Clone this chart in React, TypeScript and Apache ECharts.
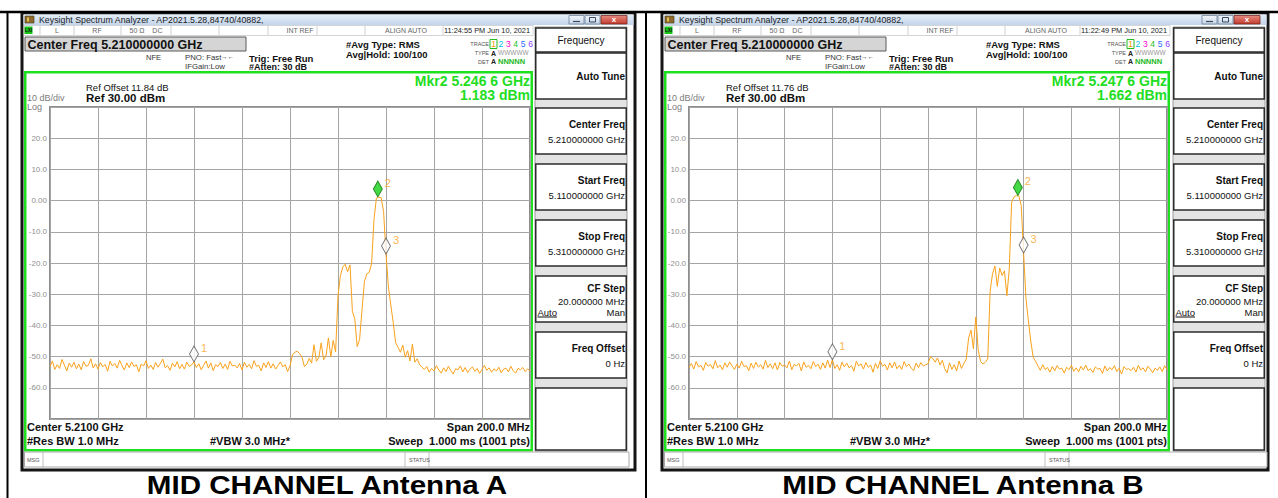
import React, { useEffect, useRef } from "react";
import * as echarts from "echarts";

const FONT = "'Liberation Sans', Arial, Helvetica, sans-serif";
const START_MHZ = 5110;
const STEP_MHZ = 1;
const SPAN_MHZ = 200;
const REF_DBM = 30;
const BOTTOM_DBM = -70;
const DB_PER_DIV = 10;

// Trace A: levels in dBm, one reading per MHz from 5110 MHz to 5310 MHz
const traceA: number[] = [
  -53.2, -51.4, -54.1, -52.6, -53.8, -50.9, -52.7, -54.6, -52.1, -53.4,
  -51.8, -53.9, -52.4, -54.2, -51.6, -53.1, -52.8, -50.7, -53.6, -52.3,
  -54.0, -51.9, -53.3, -52.5, -54.7, -51.5, -53.0, -52.2, -53.7, -51.2,
  -52.9, -54.3, -52.0, -53.5, -51.7, -53.2, -52.6, -54.9, -52.4, -53.0,
  -51.3, -53.8, -52.7, -54.1, -51.9, -53.4, -52.2, -50.8, -53.6, -52.9,
  -54.4, -52.1, -53.3, -51.6, -53.9, -52.5, -54.0, -51.8, -53.1, -52.7,
  -51.7, -53.5, -52.3, -54.2, -52.8, -51.4, -53.7, -52.0, -54.5, -52.6,
  -53.2, -51.9, -53.8, -52.4, -54.1, -51.5, -53.0, -52.7, -53.6, -52.2,
  -54.3, -51.8, -53.4, -52.5, -53.9, -51.3, -53.1, -52.8, -54.6, -52.0,
  -53.5, -51.6, -53.7, -52.3, -54.0, -52.9, -51.7, -53.3, -52.6, -54.8,
  -53.0, -49.5, -48.6, -48.3, -49.0, -50.2, -53.2, -52.4, -50.6, -52.1,
  -46.2, -51.5, -50.3, -45.6, -51.0, -49.8, -44.0, -50.1, -44.8, -48.5,
  -30.5, -24.0, -21.3, -20.4, -22.8, -20.6, -35.5, -38.0, -46.8, -44.5,
  -35.0, -26.0, -23.5, -23.0, -20.2, -6.0, 0.8, 1.1, 0.9, -3.5,
  -17.1, -27.6, -33.5, -39.0, -45.5, -47.0, -48.6, -46.3, -50.2, -48.1,
  -51.4, -46.0, -51.8, -50.7, -52.6, -53.4,
  -54.1, -53.2, -55.0, -53.8, -54.6, -52.9, -54.3, -55.3, -53.6, -54.8,
  -53.1, -54.5, -55.6, -53.9, -54.2, -53.0, -54.9, -53.5, -55.1, -54.0,
  -53.3, -54.7, -53.8, -55.4, -54.1, -52.8, -54.4, -53.6, -55.0, -53.9,
  -54.6, -53.4, -55.2, -54.0, -53.7, -54.9, -53.1, -54.5, -55.3, -53.8,
  -54.2, -53.5, -54.8, -53.9, -54.6,
];

// Trace B: levels in dBm, one reading per MHz from 5110 MHz to 5310 MHz
const traceB: number[] = [
  -53.5, -52.2, -54.0, -51.6, -53.3, -52.8, -54.4, -51.9, -53.1, -52.5,
  -53.9, -51.3, -53.6, -52.7, -54.2, -52.0, -53.4, -51.7, -53.0, -54.1,
  -52.4, -53.7, -51.5, -53.2, -52.9, -54.5, -52.1, -53.8, -51.8, -53.3,
  -52.6, -54.0, -51.2, -53.5, -52.3, -53.9, -52.0, -54.3, -51.9, -53.1,
  -52.7, -53.6, -51.4, -54.2, -52.5, -53.0, -52.2, -54.6, -51.7, -53.4,
  -52.8, -53.9, -51.6, -53.2, -52.4, -54.1, -52.0, -53.7, -51.1, -53.5,
  -51.0, -53.8, -52.6, -54.4, -51.8, -53.3, -52.1, -53.6, -52.9, -54.7,
  -51.5, -53.0, -52.3, -54.0, -51.9, -53.4, -52.7, -55.0, -52.2, -53.8,
  -51.3, -53.1, -52.5, -54.3, -52.0, -53.6, -51.7, -53.9, -52.8, -54.1,
  -51.6, -53.2, -52.4, -53.7, -54.5, -52.1, -53.5, -51.9, -53.0, -52.6,
  -52.3, -50.1, -50.6, -51.8, -50.4, -52.7, -51.2, -53.9, -55.2, -52.0,
  -54.1, -52.6, -54.6, -51.4, -53.8, -52.2, -50.8, -44.0, -41.5, -47.5,
  -37.3, -47.8, -51.6, -52.4, -51.8, -50.7, -29.0, -23.5, -21.0, -27.5,
  -21.6, -24.0, -22.5, -30.5, -22.0, -0.5, 1.2, 1.6, 1.5, -1.5,
  -16.8, -31.5, -38.5, -45.0, -50.2, -51.5,
  -53.0, -54.4, -52.6, -54.1, -53.5, -55.0, -53.2, -54.6, -52.9, -54.0,
  -53.7, -55.3, -53.4, -54.2, -52.8, -54.7, -53.6, -54.9, -53.1, -54.3,
  -52.7, -54.5, -53.9, -55.1, -53.3, -54.0, -53.8, -55.4, -53.0, -54.6,
  -53.5, -54.2, -52.9, -54.8, -53.7, -55.6, -53.2, -54.1, -53.9, -54.5,
  -53.4, -55.0, -52.8, -54.3, -53.6, -54.9, -53.1, -54.0, -55.2, -53.7,
  -54.4, -53.3, -54.8, -52.9, -54.2,
];

const markersA = [
  { id: "1", mhz: 5170.0, dbm: -51.7, active: false },
  { id: "2", mhz: 5246.6, dbm: 1.183, active: true },
  { id: "3", mhz: 5250.0, dbm: -17.1, active: false },
];
const markersB = [
  { id: "1", mhz: 5170.0, dbm: -51.0, active: false },
  { id: "2", mhz: 5247.6, dbm: 1.662, active: true },
  { id: "3", mhz: 5250.0, dbm: -16.8, active: false },
];

const softkeys = [
  { title: "Auto Tune", value: "" },
  { title: "Center Freq", value: "5.210000000 GHz" },
  { title: "Start Freq", value: "5.110000000 GHz" },
  { title: "Stop Freq", value: "5.310000000 GHz" },
  { title: "CF Step", value: "20.000000 MHz" },
  { title: "Freq Offset", value: "0 Hz" },
];
const softkeyTops = [53, 108, 164, 220, 276, 332, 388];

const traceNumbers = ["1", "2", "3", "4", "5", "6"];
const traceNumberColors = ["#f59a00", "#00bde6", "#ff00cc", "#1fbf1f", "#2b6cff", "#8a3cff"];

const panels = [
  {
    caption: "MID CHANNEL Antenna A",
    captionX: 327,
    time: "11:24:55 PM Jun 10, 2021",
    refOffset: "Ref Offset 11.84 dB",
    mkrFreq: "Mkr2 5.246 6 GHz",
    mkrLevel: "1.183 dBm",
    trace: traceA,
    markers: markersA,
    win: [22, 635],
    plot: [24, 533],
    grid: [50, 530],
    keys: [535, 627],
  },
  {
    caption: "MID CHANNEL Antenna B",
    captionX: 963,
    time: "11:22:49 PM Jun 10, 2021",
    refOffset: "Ref Offset 11.76 dB",
    mkrFreq: "Mkr2 5.247 6 GHz",
    mkrLevel: "1.662 dBm",
    trace: traceB,
    markers: markersB,
    win: [662, 1268],
    plot: [664, 1170],
    grid: [689, 1167],
    keys: [1173, 1265],
  },
];

const GREEN = "#1fe01f";
const ORANGE = "#f9a11b";

function vgrad(a: string, b: string) {
  return new echarts.graphic.LinearGradient(0, 0, 0, 1, [
    { offset: 0, color: a },
    { offset: 1, color: b },
  ]);
}

function buildPanel(p: any) {
  const els: any[] = [];
  const L = p.win[0] - 22;
  const R = p.plot[1] - 533;
  const WR = p.win[1] - 635;
  const KL = p.keys[0];
  const KR = p.keys[1];
  const txt = (x: number, y: number, text: string, size: number, o: any = {}) =>
    els.push({
      type: "text",
      z: 30,
      x,
      y,
      scaleX: o.scaleX || 1,
      silent: true,
      style: {
        text,
        fontSize: size,
        fontFamily: o.family || FONT,
        fontWeight: o.bold ? "bold" : "normal",
        fill: o.color || "#111",
        align: o.align || "left",
        verticalAlign: "middle",
      },
    });
  const rect = (x: number, y: number, w: number, h: number, fill: any, stroke?: string, lw?: number, z = 1) =>
    els.push({
      type: "rect",
      z,
      silent: true,
      shape: { x, y, width: w, height: h },
      style: { fill, stroke: stroke || null, lineWidth: lw || 0 },
    });
  const line = (x1: number, y1: number, x2: number, y2: number, stroke: string, lw = 1, z = 12) =>
    els.push({ type: "line", z, silent: true, shape: { x1, y1, x2, y2 }, style: { stroke, lineWidth: lw } });

  // window
  rect(p.win[0], 13, p.win[1] - p.win[0], 457, "#ffffff", "#151515", 3, 0);
  rect(p.win[0] + 1.5, 14.5, p.win[1] - p.win[0] - 3, 10.5, vgrad("#e4edf8", "#c3d5eb"), null as any, 0, 1);
  rect(L + 25, 16, 9, 7, "#8c6a2c", "#4a3a18", 0.6, 2);
  rect(L + 27, 17.5, 2, 4, "#e0c050", null as any, 0, 3);
  txt(L + 39, 20, "Keysight Spectrum Analyzer - AP2021.5.28,84740/40882,", 8.8, { color: "#1b1b1b" });
  rect(WR + 569, 15.5, 15, 8.5, vgrad("#f2f6fb", "#c6d4e6"), "#6d819c", 0.8, 2);
  line(WR + 573, 21.5, WR + 580, 21.5, "#3a4a60", 1.2, 3);
  rect(WR + 585, 15.5, 15, 8.5, vgrad("#f2f6fb", "#c6d4e6"), "#6d819c", 0.8, 2);
  rect(WR + 589.5, 17.5, 6, 4.5, null as any, "#3a4a60", 1, 3);
  rect(WR + 601, 15.5, 26, 8.5, vgrad("#e88b80", "#c2392c"), "#7a2820", 0.8, 2);
  txt(WR + 614, 19.8, "x", 8, { bold: true, color: "#ffffff", align: "center" });

  // status row
  rect(L + 24, 25.5, p.plot[1] - L - 24, 10, "#ffffff", "#c9c9c9", 0.8, 1);
  rect(L + 24.5, 26.5, 8, 7.5, "#18c418", null as any, 0, 2);
  txt(L + 28.5, 30.4, "LXI", 4.5, { bold: true, align: "center", color: "#111" });
  [40, 74, 121, 171, 219, 268, 317, 365].forEach((x) => line(L + x, 26, L + x, 35, "#c4c4c4", 0.8, 2));
  line(R + 443, 26, R + 443, 35, "#c4c4c4", 0.8, 2);
  txt(L + 57, 30.5, "L", 7, { color: "#666", align: "center" });
  txt(L + 97, 30.5, "RF", 7, { color: "#666", align: "center" });
  txt(L + 146, 30.5, "50 Ω    DC", 7, { color: "#666", align: "center" });
  txt(L + 300, 30.5, "INT REF", 7, { color: "#666", align: "center" });
  txt(L + 406, 30.5, "ALIGN AUTO", 7, { color: "#666", align: "center" });
  txt(R + 487, 30.5, p.time, 7.4, { color: "#222", align: "center" });

  // header block
  rect(L + 25, 37, 221, 14, "#d5d5d5", "#5a5a5a", 1, 2);
  txt(L + 27.5, 44.5, "Center Freq 5.210000000 GHz", 12.5, { bold: true });
  txt(L + 146, 57, "NFE", 7.5, { color: "#333" });
  txt(L + 185, 57, "PNO: Fast", 7.8, { color: "#333" });
  txt(L + 221, 56.5, "→←", 6.5, { color: "#333" });
  txt(L + 185, 66, "IFGain:Low", 7.8, { color: "#333" });
  txt(L + 249, 58, "Trig: Free Run", 9.5, { bold: true });
  txt(L + 249, 66.5, "#Atten: 30 dB", 9, { bold: true });
  txt(L + 346, 44.5, "#Avg Type: RMS", 9.5, { bold: true });
  txt(L + 346, 54.5, "Avg|Hold: 100/100", 9.5, { bold: true });
  txt(R + 489, 44, "TRACE", 5.5, { color: "#555", align: "right" });
  txt(R + 489, 53, "TYPE", 5.5, { color: "#555", align: "right" });
  txt(R + 489, 61.5, "DET", 5.5, { color: "#555", align: "right" });
  rect(R + 490, 39.5, 7, 9, null as any, "#22bb22", 1, 3);
  traceNumbers.forEach((n, k) =>
    txt(R + 493.5 + k * 7.4, 44.2, n, 8.5, { color: traceNumberColors[k], align: "center" })
  );
  txt(R + 491, 53, "A", 7, { bold: true, color: "#222" });
  txt(R + 498, 52.5, "WWWWW", 6.5, { color: "#999" });
  txt(R + 491, 61.5, "A", 7, { bold: true, color: "#222" });
  txt(R + 498, 61.5, "NNNNN", 7.5, { bold: true, color: "#22b822" });

  // plot frame and texts
  rect(p.plot[0] + 1.25, 72.25, p.plot[1] - p.plot[0] - 2.5, 378, "#ffffff", GREEN, 2.5, 1);
  txt(L + 86, 87.5, p.refOffset, 9.5, { color: "#111" });
  txt(L + 86, 98, "Ref 30.00 dBm", 11.5, { bold: true });
  txt(L + 27, 98, "10 dB/div", 9, { color: "#7c7c7c" });
  txt(L + 27, 107, "Log", 9, { color: "#7c7c7c" });
  txt(R + 530, 80.5, p.mkrFreq, 14, { bold: true, color: "#22dd22", align: "right" });
  txt(R + 530, 94.5, p.mkrLevel, 14, { bold: true, color: "#22dd22", align: "right" });
  txt(L + 27, 427, "Center 5.2100 GHz", 11, { bold: true });
  txt(R + 530, 427, "Span 200.0 MHz", 11, { bold: true, align: "right" });
  txt(L + 27, 441, "#Res BW 1.0 MHz", 11, { bold: true });
  txt(L + 210, 441, "#VBW 3.0 MHz*", 11, { bold: true });
  txt(R + 530, 441, "Sweep  1.000 ms (1001 pts)", 11, { bold: true, align: "right" });

  // message bar
  rect(L + 24.5, 452, KR + 2 - (L + 24.5), 15, "#ffffff", "#a8a8a8", 1, 1);
  txt(L + 27, 459.5, "MSG", 5.5, { color: "#555" });
  line(L + 43, 452, L + 43, 467, "#b0b0b0", 0.8, 2);
  line(L + 405, 452, L + 405, 467, "#b0b0b0", 0.8, 2);
  txt(L + 409, 459.5, "STATUS", 5.5, { color: "#555" });
  line(L + 429, 452, L + 429, 467, "#b0b0b0", 0.8, 2);

  // softkeys
  rect(KL, 27, KR - KL, 424, "#e3e3e3", "#9a9a9a", 1, 1);
  rect(KL + 0.75, 28, KR - KL - 1.5, 24, "#ffffff", "#2b2b2b", 1.5, 2);
  txt((KL + KR) / 2, 40.5, "Frequency", 10, { align: "center" });
  softkeyTops.forEach((top, k) => {
    const h = k === softkeyTops.length - 1 ? 62 : 46;
    rect(KL + 0.75, top, KR - KL - 1.5, h, "#ffffff", "#2b2b2b", 1.5, 2);
    const sk = softkeys[k];
    if (!sk) return;
    if (!sk.value) {
      txt(KR - 2, top + 23, sk.title, 10, { bold: true, align: "right" });
    } else if (sk.title === "CF Step") {
      txt(KR - 2, top + 12, sk.title, 10, { bold: true, align: "right" });
      txt(KR - 2, top + 25, sk.value, 9.5, { align: "right" });
      txt(KL + 2.5, top + 36, "Auto", 9.5);
      line(KL + 2.5, top + 41, KL + 22, top + 41, "#111", 1, 31);
      txt(KR - 2, top + 36, "Man", 9.5, { align: "right" });
    } else {
      txt(KR - 2, top + 16, sk.title, 10, { bold: true, align: "right" });
      txt(KR - 2, top + 31, sk.value, 9.5, { align: "right" });
    }
  });

  // caption
  txt(p.captionX, 485, p.caption, 25.5, { bold: true, color: "#000", align: "center", scaleX: 1.16 });
  return els;
}

function buildOption() {
  const graphics: any[] = [];
  panels.forEach((p) => graphics.push(...buildPanel(p)));
  graphics.push({ type: "line", z: 40, silent: true, shape: { x1: 0, y1: 12, x2: 1278, y2: 12 }, style: { stroke: "#000", lineWidth: 2.5 } });
  graphics.push({ type: "line", z: 40, silent: true, shape: { x1: 7.5, y1: 12, x2: 7.5, y2: 498 }, style: { stroke: "#000", lineWidth: 2 } });
  graphics.push({ type: "line", z: 40, silent: true, shape: { x1: 646, y1: 12, x2: 646, y2: 498 }, style: { stroke: "#000", lineWidth: 2 } });

  const grids = panels.map((p) => ({
    left: p.grid[0],
    top: 107,
    width: p.grid[1] - p.grid[0],
    height: 312,
    show: true,
    backgroundColor: "transparent",
    borderColor: "#8d8d8d",
    borderWidth: 2,
    z: 3,
  }));
  const xAxes = panels.map((_, i) => ({
    gridIndex: i,
    type: "value",
    min: 0,
    max: SPAN_MHZ,
    interval: SPAN_MHZ / 10,
    z: 3,
    axisLabel: { show: false },
    axisTick: { show: false },
    axisLine: { show: false },
    splitLine: { show: true, lineStyle: { color: "#a5a5a5", width: 1 } },
  }));
  const yAxes = panels.map((_, i) => ({
    gridIndex: i,
    type: "value",
    min: BOTTOM_DBM,
    max: REF_DBM,
    interval: DB_PER_DIV,
    z: 3,
    axisTick: { show: false },
    axisLine: { show: false },
    splitLine: { show: true, lineStyle: { color: "#a5a5a5", width: 1 } },
    axisLabel: {
      margin: 3,
      color: "#8f8f8f",
      fontSize: 8,
      fontFamily: FONT,
      formatter: (v: number) =>
        v === REF_DBM || v === BOTTOM_DBM ? "" : v === 0 ? "0.00" : v.toFixed(1),
    },
  }));
  const series: any[] = [];
  panels.forEach((p, i) => {
    series.push({
      type: "line",
      xAxisIndex: i,
      yAxisIndex: i,
      z: 5,
      silent: true,
      showSymbol: false,
      data: p.trace.map((v: number, k: number) => [k * STEP_MHZ, v]),
      lineStyle: { color: ORANGE, width: 1 },
    });
    series.push({
      type: "scatter",
      xAxisIndex: i,
      yAxisIndex: i,
      z: 6,
      silent: true,
      symbol: "diamond",
      symbolSize: [9, 16],
      symbolOffset: [0, -8],
      data: p.markers.map((m: any) => ({
        value: [m.mhz - START_MHZ, m.dbm],
        itemStyle: m.active
          ? { color: "#16cf16", borderColor: "#0b6e0b", borderWidth: 1 }
          : { color: "#ffffff", borderColor: "#555555", borderWidth: 1 },
        label: {
          show: true,
          formatter: m.id,
          position: "right",
          distance: 2,
          offset: [0, -6],
          color: ORANGE,
          fontSize: 11,
          fontFamily: FONT,
        },
      })),
    });
  });

  return {
    animation: false,
    backgroundColor: "#ffffff",
    grid: grids,
    xAxis: xAxes,
    yAxis: yAxes,
    series,
    graphic: { elements: graphics },
  };
}

export default function App() {
  const ref = useRef<HTMLDivElement>(null);
  useEffect(() => {
    if (!ref.current) return;
    const chart = echarts.init(ref.current, null, { renderer: "svg", width: 1278, height: 498 });
    chart.setOption(buildOption() as any);
    return () => chart.dispose();
  }, []);
  return (
    <div
      ref={ref}
      style={{ position: "fixed", left: 0, top: 0, width: 1278, height: 498, background: "#ffffff" }}
    />
  );
}
